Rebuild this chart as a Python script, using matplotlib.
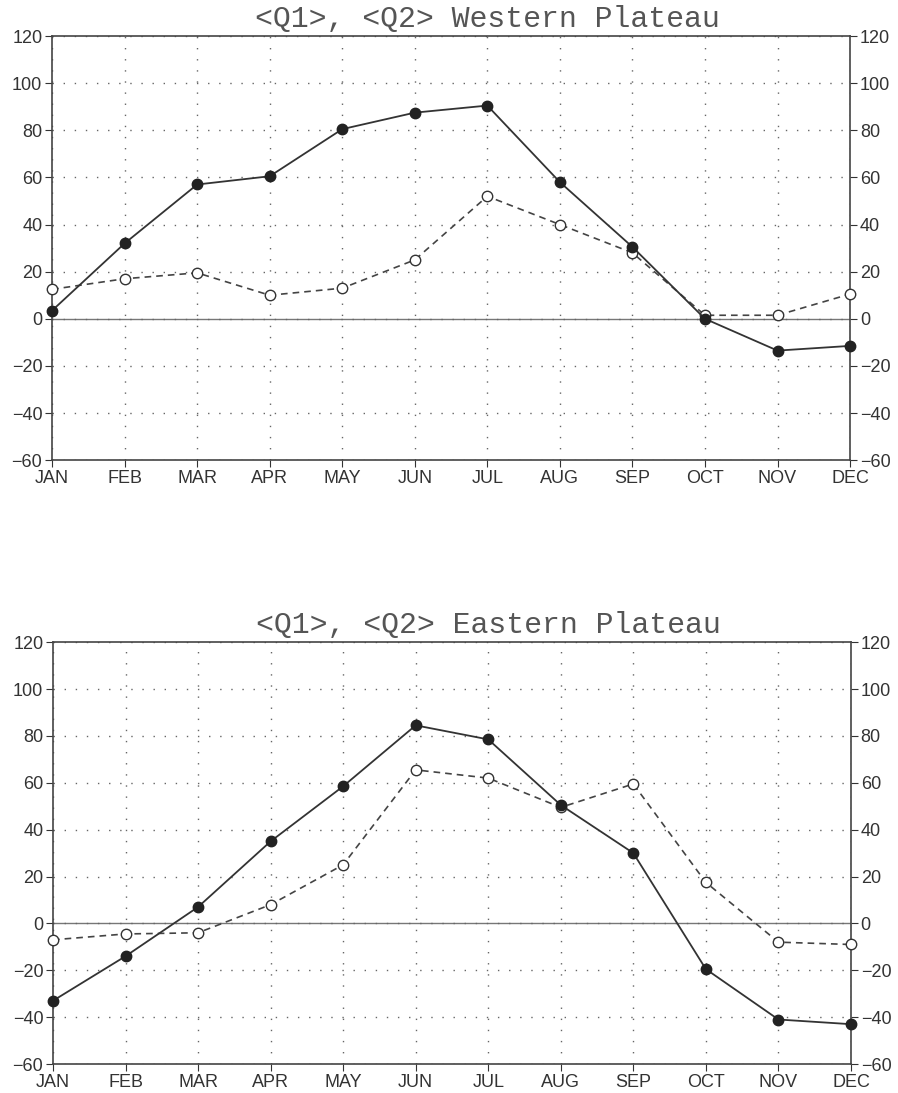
import matplotlib.pyplot as plt

months = ["JAN", "FEB", "MAR", "APR", "MAY", "JUN",
          "JUL", "AUG", "SEP", "OCT", "NOV", "DEC"]

# Western Plateau
west_q1 = [3.5, 32, 57, 60.5, 80.5, 87.5, 90.5, 58, 30.5, 0, -13.5, -11.5]
west_q2 = [12.5, 17, 19.5, 10, 13, 25, 52, 40, 28, 1.5, 1.5, 10.5]

# Eastern Plateau
east_q1 = [-33, -14, 7, 35, 58.5, 84.5, 78.5, 50.5, 30, -19.5, -41, -43]
east_q2 = [-7, -4.5, -4, 8, 25, 65.5, 62, 49.5, 59.5, 17.5, -8, -9]

yticks = [-60, -40, -20, 0, 20, 40, 60, 80, 100, 120]

plt.rcParams['font.family'] = ['Liberation Sans', 'DejaVu Sans']

fig = plt.figure(figsize=(8.98, 10.93), dpi=100)


def panel(rect, q1, q2, titolo):
    ax = fig.add_axes(rect)
    x = list(range(len(months)))
    ax.axhline(0, color="#777777", lw=1.0, zorder=1)
    ax.plot(x, q2, color="#444444", lw=1.2, ls=(0, (4, 3)), marker="o",
            markersize=7.5, markerfacecolor="white", markeredgecolor="#333333",
            markeredgewidth=1.0, clip_on=False, zorder=3)
    ax.plot(x, q1, color="#333333", lw=1.3, marker="o", markersize=7.5,
            markerfacecolor="#222222", markeredgecolor="#222222",
            clip_on=False, zorder=4)
    ax.set_xlim(0, 11)
    ax.set_ylim(-60, 120)
    ax.set_xticks(x)
    ax.set_xticklabels(months)
    ax.set_yticks(yticks)
    # griglia a puntini radi
    ax.grid(True, ls=(0, (1, 7)), color="#666666", lw=1.0)
    ax.tick_params(axis="both", labelsize=13, colors="#333333",
                   direction="out", length=5)
    ax.tick_params(axis="x", pad=2)
    ax.tick_params(axis="y", right=True, labelright=True, pad=2)
    for s in ax.spines.values():
        s.set_color("#444444")
        s.set_linewidth(1.2)
    ax.text(0.546, 1.008, titolo, transform=ax.transAxes, ha="center",
            va="bottom", fontsize=21.5, family="Liberation Mono", color="#555555")
    return ax


panel([0.058, 0.579, 0.8886, 0.388], west_q1, west_q2,
      "<Q1>, <Q2> Western Plateau")
panel([0.059, 0.0265, 0.8886, 0.386], east_q1, east_q2,
      "<Q1>, <Q2> Eastern Plateau")

fig.savefig("out.png", dpi=100)
